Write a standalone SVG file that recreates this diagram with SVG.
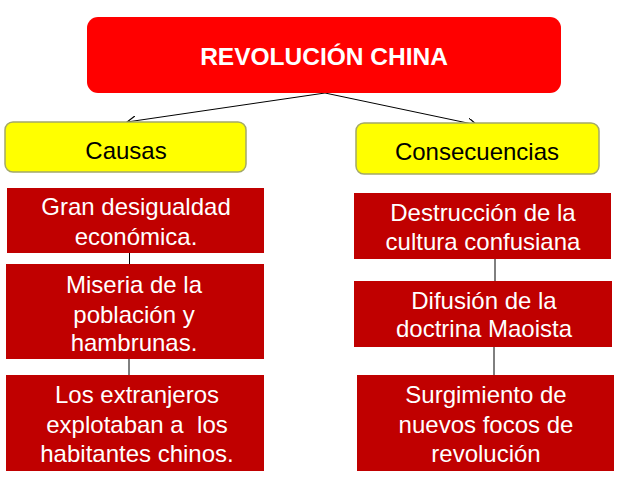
<svg xmlns="http://www.w3.org/2000/svg" width="638" height="479" viewBox="0 0 638 479">
<defs>
<style>
.t{font-family:"Liberation Sans",Arial,sans-serif;text-anchor:middle}
.w{fill:#ffffff;font-size:24px}
.k{fill:#000000;font-size:24px}
.red{fill:#c00000}
.yel{fill:#ffff00;stroke:#a3a86a;stroke-width:1.5}
.ln{stroke:#000;stroke-width:1;fill:none}
</style>
<marker id="ah" viewBox="0 0 10 10" refX="9" refY="5" markerWidth="10" markerHeight="10" markerUnits="userSpaceOnUse" orient="auto">
<path d="M0,0 L9,5 L0,10" fill="none" stroke="#000" stroke-width="1.2"/>
</marker>
</defs>
<rect width="638" height="479" fill="#ffffff"/>
<g id="connectors">
<line class="ln" x1="325" y1="93" x2="127" y2="122" marker-end="url(#ah)"/>
<line class="ln" x1="325" y1="93" x2="477" y2="125" marker-end="url(#ah)"/>
<line class="ln" x1="129.5" y1="253" x2="129.5" y2="264"/>
<line class="ln" x1="129" y1="359" x2="129" y2="375"/>
<line class="ln" x1="495" y1="259" x2="495" y2="281"/>
<line class="ln" x1="494" y1="347" x2="494" y2="375"/>
</g>
<g id="title">
<rect x="87" y="17" width="474" height="76" rx="11" fill="#ff0000"/>
<text class="t" x="324" y="65" fill="#ffffff" font-size="24.5" font-weight="bold">REVOLUCIÓN CHINA</text>
</g>
<g id="causas">
<rect class="yel" x="5" y="122" width="241" height="50" rx="8"/>
<text class="t k" x="126" y="159">Causas</text>
</g>
<g id="consecuencias">
<rect class="yel" x="356" y="123" width="243" height="51" rx="8"/>
<text class="t k" x="477" y="160">Consecuencias</text>
</g>
<g id="gran-desigualdad">
<rect class="red" x="7" y="188" width="257" height="65"/>
<text class="t w" x="136" y="215">Gran desigualdad</text>
<text class="t w" x="136" y="245">económica.</text>
</g>
<g id="miseria">
<rect class="red" x="6" y="264" width="258" height="95"/>
<text class="t w" x="134" y="293">Miseria de la</text>
<text class="t w" x="134" y="323">población y</text>
<text class="t w" x="134" y="351">hambrunas.</text>
</g>
<g id="extranjeros">
<rect class="red" x="6" y="375" width="258" height="96"/>
<text class="t w" x="137" y="403">Los extranjeros</text>
<text class="t w" x="137" y="433" xml:space="preserve">explotaban a  los</text>
<text class="t w" x="137" y="462">habitantes chinos.</text>
</g>
<g id="destruccion">
<rect class="red" x="354" y="193" width="257" height="66"/>
<text class="t w" x="483" y="221">Destrucción de la</text>
<text class="t w" x="483" y="250">cultura confusiana</text>
</g>
<g id="difusion">
<rect class="red" x="354" y="281" width="258" height="66"/>
<text class="t w" x="484" y="309">Difusión de la</text>
<text class="t w" x="484" y="337">doctrina Maoista</text>
</g>
<g id="surgimiento">
<rect class="red" x="357" y="375" width="257" height="96"/>
<text class="t w" x="486" y="403">Surgimiento de</text>
<text class="t w" x="486" y="433">nuevos focos de</text>
<text class="t w" x="486" y="462">revolución</text>
</g>
</svg>
